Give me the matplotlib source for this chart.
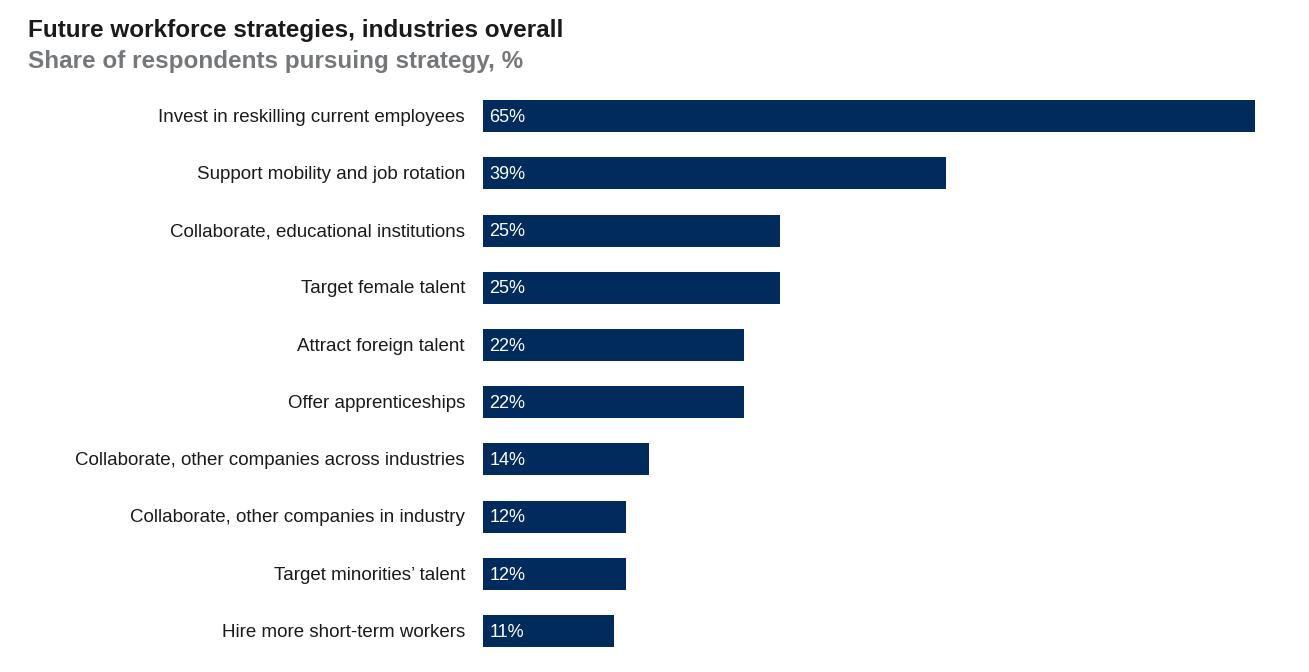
import matplotlib.pyplot as plt

# Data
strategies = [
    "Invest in reskilling current employees",
    "Support mobility and job rotation",
    "Collaborate, educational institutions",
    "Target female talent",
    "Attract foreign talent",
    "Offer apprenticeships",
    "Collaborate, other companies across industries",
    "Collaborate, other companies in industry",
    "Target minorities\u2019 talent",
    "Hire more short-term workers",
]
shares = [65, 39, 25, 25, 22, 22, 14, 12, 12, 11]

W, H = 1309, 672
plt.rcParams['font.family'] = ['Liberation Sans', 'DejaVu Sans']

fig = plt.figure(figsize=(W / 100, H / 100), dpi=100)
fig.patch.set_facecolor('white')

# axes placed so bars start at x=483 px and 65% ends at x~1255 px
left_px = 483
px_per_pct = (1255 - left_px) / 65
ax = fig.add_axes([left_px / W, 1 - 659.7 / H, (W - left_px) / W, (659.7 - 87.5) / H])
ax.set_xlim(0, (W - left_px) / px_per_pct)
ax.set_ylim(len(strategies) - 0.5, -0.5)

y = list(range(len(strategies)))
ax.barh(y, shares, height=0.56, color='#002B5C')

for yi, v, lab in zip(y, shares, strategies):
    ax.text(0.55, yi + 0.02, f"{v}%", color='white', fontsize=13, va='center', ha='left')
    ax.annotate(lab, xy=(0, yi + 0.02), xytext=(-18, 0), textcoords='offset pixels',
                ha='right', va='center', fontsize=13.5, color='#1a1a1a',
                annotation_clip=False)

ax.axis('off')

fig.text(28 / W, 1 - 37 / H, "Future workforce strategies, industries overall",
         fontsize=17.5, fontweight='bold', color='#1a1a1a', ha='left', va='baseline')
fig.text(28 / W, 1 - 68 / H, "Share of respondents pursuing strategy, %",
         fontsize=17.5, fontweight='bold', color='#75787B', ha='left', va='baseline')

fig.savefig('out.png', dpi=100)
